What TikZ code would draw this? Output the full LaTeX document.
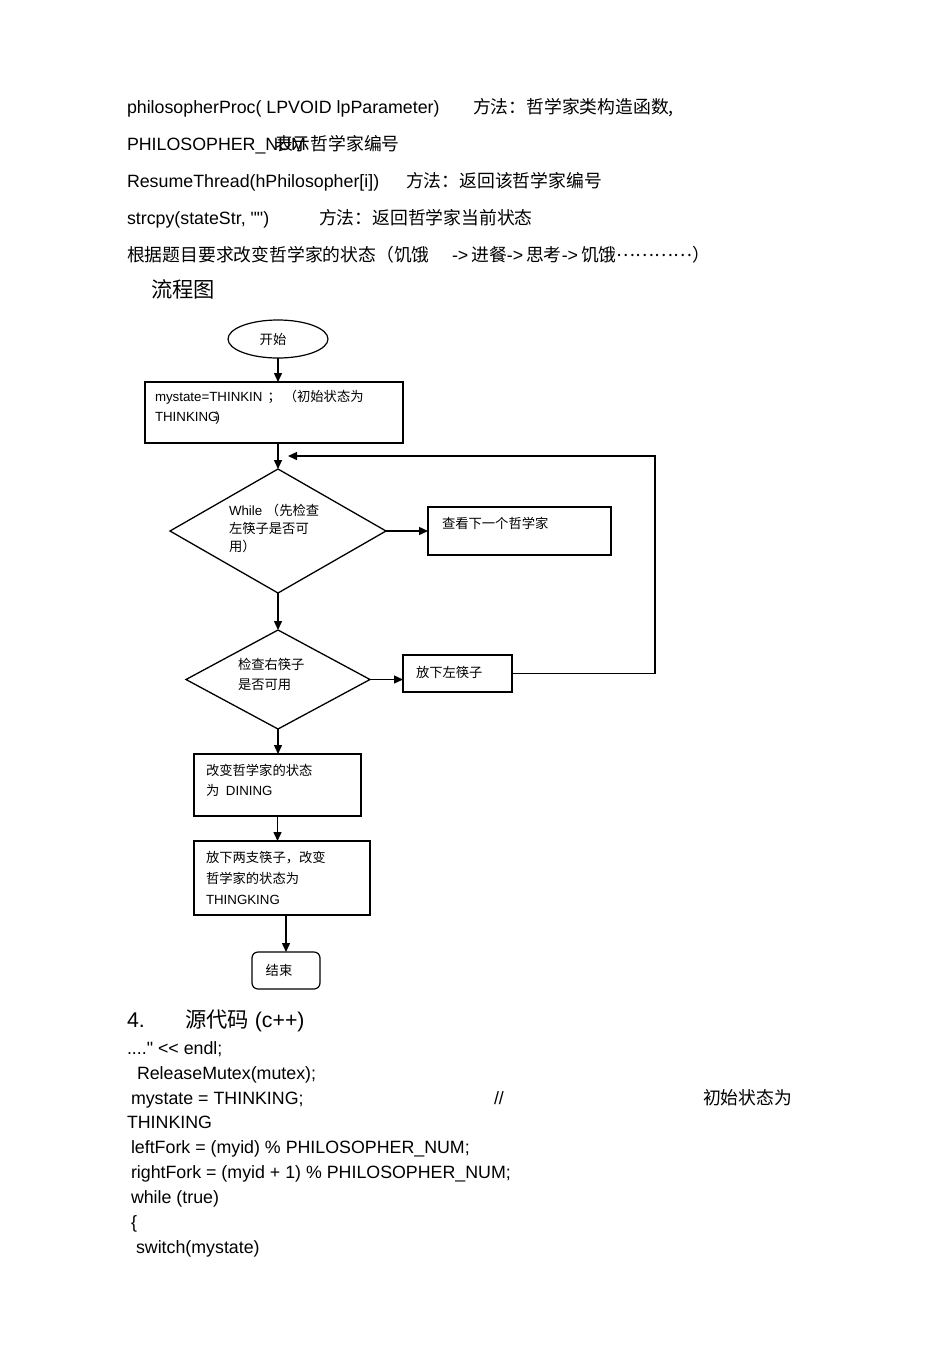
\documentclass[tikz,border=0pt]{standalone}
\usepackage{fontspec}
\setmainfont{Liberation Sans}[Ligatures=TeXOff]
\newfontfamily\cjk{Noto Sans CJK SC}
\newcommand\zhs[1]{{\cjk #1}}
\usetikzlibrary{arrows.meta,shapes.geometric}
\begin{document}
\begin{tikzpicture}[x=1pt,y=-1pt,
  every node/.style={outer sep=0pt},
  txt/.style={anchor=base west, inner sep=0pt, font=\fontsize{17.8pt}{20pt}\selectfont},
  htxt/.style={anchor=base west, inner sep=0pt, font=\fontsize{21.3pt}{24pt}\selectfont},
  ftxt/.style={anchor=base west, inner sep=0pt, font=\fontsize{13.3pt}{16pt}\selectfont},
  thinbox/.style={draw, line width=1.2pt, inner sep=0pt},
  thickbox/.style={draw, line width=1.9pt, inner sep=0pt},
  dia/.style={draw, diamond, line width=1.3pt, inner sep=0pt},
  arr/.style={line width=1.4pt, -{Triangle[length=9pt,width=8pt]}}
]
\fill[white] (0,0) rectangle (950,1345);
\useasboundingbox (0,0) rectangle (950,1345);

% ---- top text ----
\node[txt] (l1a) at (127,113.4) {philosopherProc( LPVOID lpParameter)};
\node[txt] (l1b) at (473,113.4) {\zhs{方法：哲学家类构造函数,}};
\node[txt] (l2a) at (127,150.4) {PHILOSOPHER\_NUM};
\node[txt] (l2b) at (275,150.4) {\zhs{表示哲学家编号}};
\node[txt] (l3a) at (127,187.4) {ResumeThread(hPhilosopher[i])};
\node[txt] (l3b) at (406,187.4) {\zhs{方法：返回该哲学家编号}};
\node[txt] (l4a) at (127,224.4) {strcpy(stateStr, "")};
\node[txt] (l4b) at (319,224.4) {\zhs{方法：返回哲学家当前状态}};
\node[txt] (l5a) at (127,261.4) {\zhs{根据题目要求改变哲学家的状态（饥饿}};
\node[txt] (l5b) at (452,261.4) {->\,\zhs{进餐}->\,\zhs{思考}->\,\zhs{饥饿}\raisebox{5pt}{\zhs{…………}}\zhs{）}};
\node[htxt] (l6) at (151,297.7) {\zhs{流程图}};

% ---- flowchart shapes ----
\node[draw, ellipse, line width=1.2pt, minimum width=100pt, minimum height=38pt, inner sep=0pt,
      font=\fontsize{13.3pt}{16pt}\selectfont] (start) at (278,339) {\hspace{-10pt}\zhs{开始}};
\node[thickbox, minimum width=258pt, minimum height=61pt] (init) at (274,412.5) {};
\node[dia, minimum width=216pt, minimum height=124pt] (d1) at (278,531) {};
\node[thinbox, minimum width=183pt, minimum height=48pt] (next) at (519.5,531) {};
\node[dia, minimum width=184pt, minimum height=99pt] (d2) at (278,679.5) {};
\node[thinbox, minimum width=109pt, minimum height=37pt] (drop) at (457.5,673.5) {};
\node[thickbox, minimum width=167pt, minimum height=62pt] (dining) at (277.5,785) {};
\node[thickbox, minimum width=176pt, minimum height=74pt] (putdown) at (282,878) {};
\node[draw, line width=1.2pt, rounded corners=6pt, minimum width=68pt, minimum height=37pt, inner sep=0pt,
      font=\fontsize{13.3pt}{16pt}\selectfont] (end) at (286,970.5) {\hspace{-14pt}\zhs{结束}};

% ---- flowchart texts ----
\node[ftxt] (i1) at (155,401.8) {mystate=THINKIN\hspace{5pt}\zhs{；}\hspace{3pt}\zhs{（初始状态为}};
\node[ftxt] (i2) at (155,421.8) {THINKING\kern-3pt)};
\node[ftxt] (w1) at (229,515.8) {While \zhs{（先检查}};
\node[ftxt] (w2) at (229,533.8) {\zhs{左筷子是否可}};
\node[ftxt] (w3) at (229,551.8) {\zhs{用）}};
\node[ftxt] (n1) at (442,528.8) {\zhs{查看下一个哲学家}};
\node[ftxt] (r1) at (238,669.8) {\zhs{检查右筷子}};
\node[ftxt] (r2) at (238,689.8) {\zhs{是否可用}};
\node[ftxt] (p1) at (416,677.8) {\zhs{放下左筷子}};
\node[ftxt] (s1) at (206,775.8) {\zhs{改变哲学家的状态}};
\node[ftxt] (s2) at (206,795.8) {\zhs{为}\hspace{3pt} DINING};
\node[ftxt] (u1) at (206,862.8) {\zhs{放下两支筷子，改变}};
\node[ftxt] (u2) at (206,883.8) {\zhs{哲学家的状态为}};
\node[ftxt] (u3) at (206,904.8) {THINGKING};

% ---- connectors ----
\coordinate (loopx) at (655,456);
\coordinate (loopend) at (288,456);
\draw[arr] (start.south) -- (start.south |- init.north);
\draw[arr] (init.south -| d1.north) -- (d1.north);
\draw[arr] (d1.east) -- (next.west);
\draw[arr] (d1.south) -- (d2.north);
\draw[arr] (d2.east) -- (d2.east -| drop.west);
\draw[arr] (drop.east) -| (loopx) -- (loopend);
\draw[arr] (d2.south) -- (d2.south |- dining.north);
\draw[arr] (dining.south) -- (dining.south |- putdown.north);
\draw[arr] (putdown.south -| end.north) -- (end.north);

% ---- bottom text ----
\node[htxt] (h4) at (127,1027.6) {4.};
\node[htxt] (h4b) at (185,1027.6) {\zhs{源代码} (c++)};
\node[txt] (c1) at (127,1054.4) {...." << endl;};
\node[txt] (c2) at (137,1079.4) {ReleaseMutex(mutex);};
\node[txt] (c3) at (131,1104.4) {mystate = THINKING;};
\node[txt] (c3b) at (494,1104.4) {//};
\node[txt] (c3c) at (703,1104.4) {\zhs{初始状态为}};
\node[txt] (c4) at (127,1128.4) {THINKING};
\node[txt] (c5) at (131,1153.4) {leftFork = (myid) \% PHILOSOPHER\_NUM;};
\node[txt] (c6) at (131,1178.4) {rightFork = (myid + 1) \% PHILOSOPHER\_NUM;};
\node[txt] (c7) at (131,1203.4) {while (true)};
\node[txt] (c8) at (131,1228.4) {\{};
\node[txt] (c9) at (136,1253.4) {switch(mystate)};
\end{tikzpicture}
\end{document}
